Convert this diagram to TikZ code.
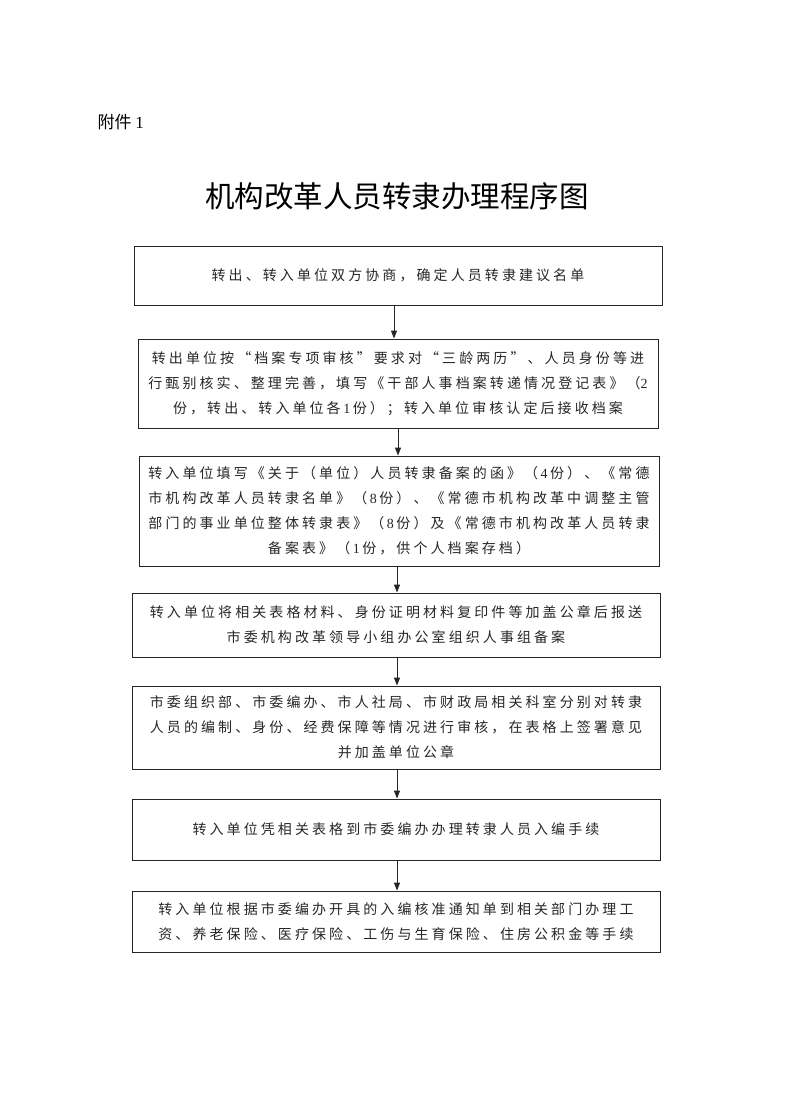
\documentclass[tikz,border=0pt]{standalone}
\usepackage{fontspec}
\setmainfont{Liberation Serif}
\newfontfamily\cjk[LetterSpace=22]{Noto Sans CJK SC}
\newfontfamily\cjktitle{Noto Sans CJK SC}
\newcommand{\dg}[1]{\hspace{2.5pt}{\rmfamily #1}\hspace{2.5pt}}
\usetikzlibrary{arrows.meta}
\definecolor{ink}{gray}{0.15}
\tikzset{
  stepbox/.style={draw=ink, line width=0.9pt, rectangle, align=center, inner sep=0pt,
    font=\cjk\fontsize{14}{25}\selectfont, text=ink},
  arr/.style={draw=ink, line width=0.9pt, -{Triangle[length=8pt,width=6pt]}}
}
\begin{document}
\begin{tikzpicture}[x=1pt,y=-1pt]
\useasboundingbox (0,0) rectangle (794,1108);
\node[anchor=west, font=\cjktitle\fontsize{17}{20}\selectfont, text=black] (att) at (94,122) {附件 {\rmfamily 1}};
\node[font=\cjktitle\fontsize{29.5}{34}\selectfont, text=black] (title) at (397,196) {机构改革人员转隶办理程序图};

\node[stepbox, minimum width=528pt, minimum height=59pt] (b1) at (398,275.5)
  {转出、转入单位双方协商，确定人员转隶建议名单};
\node[stepbox, minimum width=520pt, minimum height=89pt] (b2) at (398,383.5)
  {转出单位按“档案专项审核”要求对“三龄两历”、人员身份等进\\
   行甄别核实、整理完善，填写《干部人事档案转递情况登记表》（{\rmfamily 2}\\
   份，转出、转入单位各\dg{1}份）；转入单位审核认定后接收档案};
\node[stepbox, minimum width=520pt, minimum height=110pt] (b3) at (399,511)
  {转入单位填写《关于（单位）人员转隶备案的函》（\dg{4}份）、《常德\\
   市机构改革人员转隶名单》（\dg{8}份）、《常德市机构改革中调整主管\\
   部门的事业单位整体转隶表》（\dg{8}份）及《常德市机构改革人员转隶\\
   备案表》（\dg{1}份，供个人档案存档）};
\node[stepbox, minimum width=528pt, minimum height=64pt] (b4) at (396,625)
  {转入单位将相关表格材料、身份证明材料复印件等加盖公章后报送\\
   市委机构改革领导小组办公室组织人事组备案};
\node[stepbox, minimum width=528pt, minimum height=83pt] (b5) at (396,727.5)
  {市委组织部、市委编办、市人社局、市财政局相关科室分别对转隶\\
   人员的编制、身份、经费保障等情况进行审核，在表格上签署意见\\
   并加盖单位公章};
\node[stepbox, minimum width=528pt, minimum height=61pt] (b6) at (396,829.5)
  {转入单位凭相关表格到市委编办办理转隶人员入编手续};
\node[stepbox, minimum width=528pt, minimum height=61pt] (b7) at (396,921.5)
  {转入单位根据市委编办开具的入编核准通知单到相关部门办理工\\
   资、养老保险、医疗保险、工伤与生育保险、住房公积金等手续};

\draw[arr] ([xshift=-4pt]b1.south) -- ([xshift=-4pt]b1.south |- b2.north);
\draw[arr] ([xshift=0pt]b2.south) -- ([xshift=0pt]b2.south |- b3.north);
\draw[arr] ([xshift=-2pt]b3.south) -- ([xshift=-2pt]b3.south |- b4.north);
\draw[arr] ([xshift=1pt]b4.south) -- ([xshift=1pt]b4.south |- b5.north);
\draw[arr] ([xshift=1pt]b5.south) -- ([xshift=1pt]b5.south |- b6.north);
\draw[arr] ([xshift=1pt]b6.south) -- ([xshift=1pt]b6.south |- b7.north);
\end{tikzpicture}
\end{document}
